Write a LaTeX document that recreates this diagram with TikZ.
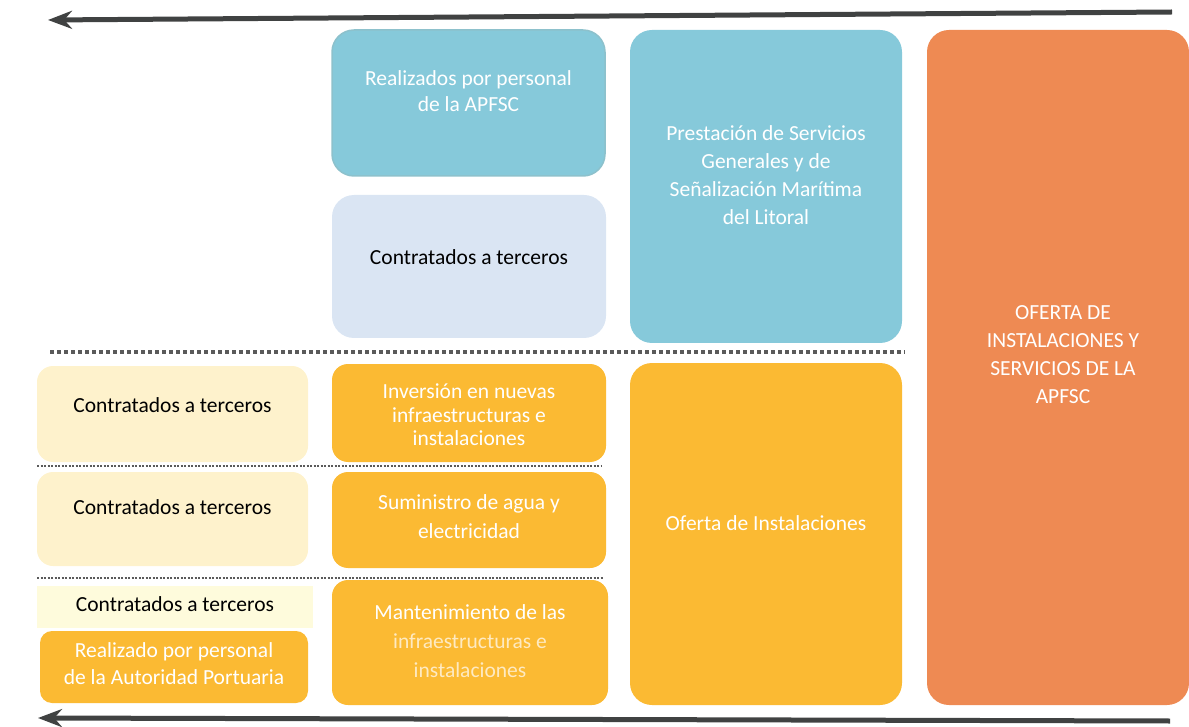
\documentclass[tikz,border=0pt]{standalone}
\usepackage{fontspec}
\setmainfont{Carlito}
\usetikzlibrary{arrows.meta}
\definecolor{teal}{HTML}{86C9DA}
\definecolor{tealedge}{HTML}{8DC1CC}
\definecolor{lblue}{HTML}{DAE5F3}
\definecolor{orng}{HTML}{EE8A53}
\definecolor{yell}{HTML}{FBBA33}
\definecolor{lyell}{HTML}{FEF2CC}
\definecolor{pyell}{HTML}{FEFBDC}
\definecolor{arrowgray}{HTML}{404242}
\definecolor{dotgray}{HTML}{5A5A5A}
\begin{document}
\begin{tikzpicture}[x=1pt,y=-1pt,
  every node/.style={inner sep=0pt,outer sep=0pt,align=center},
  fs/.style={font=\fontsize{21.5}{#1}\selectfont},
  fs/.default=28,
  bx/.style={rounded corners=22pt,minimum width=#1},
  wtext/.style={text=white,fs},
  btext/.style={text=black,fs},
  bigarrow/.style={draw=arrowgray,line width=5pt,-{Stealth[length=24pt,width=18pt]}},
  thickdots/.style={draw=dotgray,line width=4pt,dash pattern=on 4pt off 3pt},
  thindots/.style={draw=dotgray,line width=2pt,dash pattern=on 2pt off 1.5pt}
]
\useasboundingbox (0,0) rectangle (1189,727);
% arrows
\coordinate (t1) at (1172,12);
\coordinate (t0) at (48,20);
\draw[bigarrow] (t1) -- (t0);
\coordinate (b1) at (1170,721);
\coordinate (b0) at (38,718);
\draw[bigarrow] (b1) -- (b0);
% big columns
\node[bx=262pt,fill=orng,minimum height=675pt] (ofer) at (1058,367.5) {};
\node[wtext] (oferT) at (1063,355) {OFERTA DE\\INSTALACIONES Y\\SERVICIOS DE LA\\APFSC};
\node[bx=272pt,fill=teal,minimum height=313pt] (prest) at (766,186.5) {};
\node[wtext] (prestT) at (766,175) {Prestación de Servicios\\Generales y de\\Señalización Marítima\\del Litoral};
\node[bx=272pt,fill=yell,minimum height=342pt] (insta) at (766,534) {};
\node[wtext] (instaT) at (766,523) {Oferta de Instalaciones};
% middle column
\node[bx=273pt,fill=teal,draw=tealedge,line width=1.5pt,minimum height=146pt] (apfsc) at (468.5,103) {};
\node[wtext,fs=26] (apfscT) at (468.5,91) {Realizados por personal\\de la APFSC};
\node[bx=274pt,fill=lblue,minimum height=143pt] (ct0) at (469,266.5) {};
\node[btext] (ct0T) at (469,257) {Contratados a terceros};
\node[bx=274pt,fill=yell,minimum height=98pt,rounded corners=16pt] (inv) at (469,413) {};
\node[wtext,fs=23.5] (invT) at (469,415) {Inversión en nuevas\\infraestructuras e\\instalaciones};
\node[bx=274pt,fill=yell,minimum height=96pt,rounded corners=16pt] (sum) at (469,520) {};
\node[wtext,fs=29] (sumT) at (469,517) {Suministro de agua y\\electricidad};
\node[bx=276pt,fill=yell,minimum height=125pt,rounded corners=16pt] (mant) at (470,642.5) {};
\node[wtext,fs=29] (mantT) at (470,641) {Mantenimiento de las\\{\color{white!70!yell}infraestructuras e}\\{\color{white!70!yell}instalaciones}};
% left column
\node[bx=271pt,fill=lyell,minimum height=96pt,rounded corners=16pt] (ct1) at (172.5,414) {};
\node[btext] (ct1T) at (172.5,405) {Contratados a terceros};
\node[bx=271pt,fill=lyell,minimum height=94pt,rounded corners=16pt] (ct2) at (172.5,519) {};
\node[btext] (ct2T) at (172.5,507) {Contratados a terceros};
\node[fill=pyell,minimum width=276pt,minimum height=42pt] (ct3) at (175,607) {};
\node[btext] (ct3T) at (175,604) {Contratados a terceros};
\node[bx=268pt,fill=yell,minimum height=72pt,rounded corners=12pt] (real) at (174,667) {};
\node[wtext,fs=27] (realT) at (174,664) {Realizado por personal\\de la Autoridad Portuaria};
% dotted separators
\coordinate (d0a) at (50,352); \coordinate (d0b) at (905,352);
\draw[thickdots] (d0a) -- (d0b);
\coordinate (d1a) at (37,466); \coordinate (d1b) at (602,466);
\draw[thindots] (d1a) -- (d1b);
\coordinate (d2a) at (37,578); \coordinate (d2b) at (604,578);
\draw[thindots] (d2a) -- (d2b);
\end{tikzpicture}
\end{document}
